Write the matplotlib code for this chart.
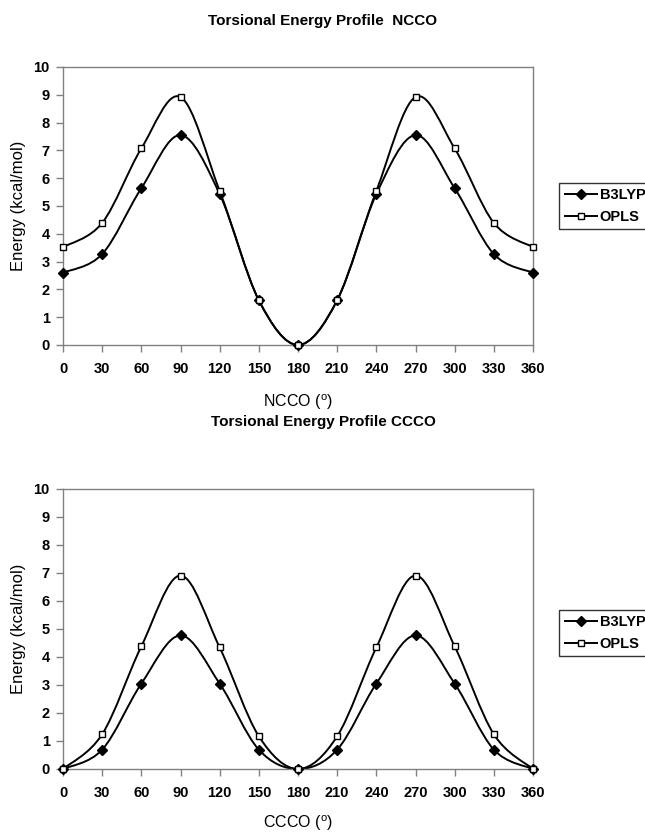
import matplotlib
matplotlib.use('Agg')
import matplotlib.pyplot as plt
from matplotlib.path import Path
from matplotlib.patches import PathPatch
from matplotlib.lines import Line2D
import numpy as np

plt.rcParams['font.family'] = ['Liberation Sans', 'DejaVu Sans']
plt.rcParams['font.weight'] = 'bold'

# torsion angles (deg)
angles = [0, 30, 60, 90, 120, 150, 180, 210, 240, 270, 300, 330, 360]

# NCCO profile (kcal/mol)
ncco_b3lyp = [2.6, 3.27, 5.64, 7.55, 5.43, 1.61, 0.0, 1.61, 5.43, 7.55, 5.64, 3.27, 2.6]
ncco_opls = [3.52, 4.39, 7.07, 8.92, 5.54, 1.61, 0.0, 1.61, 5.54, 8.92, 7.07, 4.39, 3.52]

# CCCO profile (kcal/mol)
ccco_b3lyp = [0.0, 0.69, 3.05, 4.77, 3.05, 0.69, 0.0, 0.69, 3.05, 4.77, 3.05, 0.69, 0.0]
ccco_opls = [0.0, 1.24, 4.38, 6.91, 4.34, 1.17, 0.0, 1.17, 4.34, 6.91, 4.38, 1.24, 0.0]

series_names = ['B3LYP', 'OPLS']
titles = ['Torsional Energy Profile  NCCO', 'Torsional Energy Profile CCCO']
xlabels = ['NCCO ($^{\\mathregular{o}}$)', 'CCCO ($^{\\mathregular{o}}$)']
ylabel = 'Energy (kcal/mol)'


def smooth_path(x, y):
    # excel-like smoothed line through the points
    pts = np.column_stack([x, y]).astype(float)
    ext = np.vstack([pts[:1], pts, pts[-1:]])
    verts = [pts[0]]
    codes = [Path.MOVETO]
    for i in range(len(pts) - 1):
        p0, p1, p2, p3 = ext[i], ext[i + 1], ext[i + 2], ext[i + 3]
        verts += [p1 + (p2 - p0) / 6.0, p2 - (p3 - p1) / 6.0, p2]
        codes += [Path.CURVE4] * 3
    return Path(verts, codes)


W, H = 645, 833
fig = plt.figure(figsize=(W / 100, H / 100), dpi=100)

axes_px = [(63, 67, 533, 345), (63, 489, 533, 769)]
legend_cy = [206, 633]
title_y = [21, 422]
xlabel_y = [392, 813]

panels = [(ncco_b3lyp, ncco_opls), (ccco_b3lyp, ccco_opls)]
gray = '#808080'

for k, (b3, op) in enumerate(panels):
    l, t, r, b = axes_px[k]
    ax = fig.add_axes([l / W, 1 - b / H, (r - l) / W, (b - t) / H])
    ax.set_xlim(0, 360)
    ax.set_ylim(0, 10)
    ax.set_xticks(angles)
    ax.set_yticks(range(0, 11))
    for s in ax.spines.values():
        s.set_color(gray)
        s.set_linewidth(1.0)
    ax.tick_params(direction='out', length=5, width=1, color=gray, labelsize=10.5)
    ax.tick_params(axis='x', pad=7)
    ax.tick_params(axis='y', pad=4.5)

    for vals in (b3, op):
        ax.add_patch(PathPatch(smooth_path(angles, vals), fill=False,
                               edgecolor='black', lw=1.4, clip_on=False, zorder=2))
    ax.plot(angles, b3, ls='none', marker='D', ms=5.5, color='black', zorder=3, clip_on=False)
    ax.plot(angles, op, ls='none', marker='s', ms=5, mfc='white', mec='black',
            mew=1.0, zorder=4, clip_on=False)

    fig.text(323 / W, 1 - title_y[k] / H, titles[k], ha='center', va='center',
             fontsize=11)
    ax.set_xlabel(xlabels[k], fontsize=11.5, fontweight='normal')
    ax.xaxis.set_label_coords(0.5, -(xlabel_y[k] - b) / (b - t))
    ax.set_ylabel(ylabel, fontsize=12, fontweight='normal')
    ax.yaxis.set_label_coords(-44.0 / (r - l), 0.5)
    ax.yaxis.label.set_va('center')

    handles = [Line2D([], [], color='black', lw=1.4, marker='D', ms=5.5),
               Line2D([], [], color='black', lw=1.4, marker='s', ms=5,
                      mfc='white', mec='black', mew=1.0)]
    leg = fig.legend(handles, series_names, loc='center left',
                     bbox_to_anchor=(559 / W, 1 - legend_cy[k] / H),
                     bbox_transform=fig.transFigure, frameon=True, fancybox=False,
                     edgecolor='black', fontsize=10.5, handlelength=2.2,
                     handletextpad=0.2, borderpad=0.4, labelspacing=0.5,
                     borderaxespad=0)
    leg.get_frame().set_linewidth(1.0)

fig.savefig('out.png', dpi=100)
